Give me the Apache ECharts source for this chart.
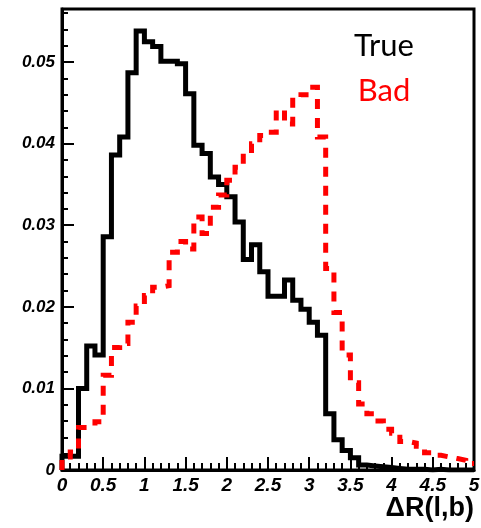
<!DOCTYPE html>
<html>
<head>
<meta charset="utf-8">
<script src="https://cdn.jsdelivr.net/npm/echarts@6/dist/echarts.min.js"></script>
<style>
  html, body { margin: 0; padding: 0; background: #ffffff; }
  #chart { width: 481px; height: 528px; }
</style>
</head>
<body>
<div id="chart"></div>
<script>
// Histogram of ΔR(l,b): 50 bins of width 0.1 between 0 and 5
const binWidth = 0.1;
const binCount = 50;

// "True" pairing (black, solid)
const trueValues = [
  0.0017, 0.0017, 0.0100, 0.0152, 0.0141, 0.0286, 0.0386, 0.0408, 0.0487, 0.0538,
  0.0525, 0.0519, 0.0501, 0.0501, 0.0498, 0.0461, 0.0398, 0.0388, 0.0359, 0.0350,
  0.0335, 0.0304, 0.0258, 0.0276, 0.0243, 0.0213, 0.0213, 0.0233, 0.0208, 0.0197,
  0.0181, 0.0165, 0.0069, 0.0037, 0.0024, 0.0015, 0.0006, 0.0005, 0.0004, 0.0003,
  0.0002, 0.0001, 0.0001, 0.0001, 0.0000, 0.0001, 0.0000, 0.0000, 0.0000, 0.0000
];

// "Bad" pairing (red, dashed)
const badValues = [
  0.0016, 0.0022, 0.0052, 0.0054, 0.0059, 0.0116, 0.0150, 0.0155, 0.0181, 0.0201,
  0.0214, 0.0224, 0.0226, 0.0267, 0.0280, 0.0271, 0.0310, 0.0290, 0.0322, 0.0337,
  0.0355, 0.0371, 0.0388, 0.0400, 0.0410, 0.0414, 0.0441, 0.0424, 0.0457, 0.0460,
  0.0469, 0.0408, 0.0247, 0.0193, 0.0141, 0.0107, 0.0081, 0.0069, 0.0060, 0.0050,
  0.0045, 0.0035, 0.0033, 0.0029, 0.0021, 0.0018, 0.0016, 0.0014, 0.0012, 0.0008
];

// Axis ticks and labels
const xMin = 0, xMax = 5, xTickStep = 0.5;
const yMin = 0, yMax = 0.0565;
const yMajorTicks = [0, 0.01, 0.02, 0.03, 0.04, 0.05];
const yMinorTicks = [
  0.002, 0.004, 0.006, 0.008, 0.012, 0.014, 0.016, 0.018,
  0.022, 0.024, 0.026, 0.028, 0.032, 0.034, 0.036, 0.038,
  0.042, 0.044, 0.046, 0.048, 0.052, 0.054, 0.056
];
const yLabels = ['0', '0.01', '0.02', '0.03', '0.04', '0.05'];
const xTitle = 'ΔR(l,b)';
const legendTrue = 'True';
const legendBad = 'Bad';

// Outline of a histogram: rise from zero at the first edge, then one point per bin
function histogramOutline(values) {
  const pts = [[0, 0]];
  for (let i = 0; i < values.length; i++) {
    pts.push([Math.round(i * binWidth * 10) / 10, values[i]]);
  }
  pts.push([binCount * binWidth, values[values.length - 1]]);
  return pts;
}

const labelFont = {
  fontFamily: 'Liberation Sans',
  fontWeight: 'bold',
  fontStyle: 'italic',
  color: '#000'
};

const chart = echarts.init(document.getElementById('chart'), null, { renderer: 'canvas' });

chart.setOption({
  animation: false,
  backgroundColor: '#ffffff',
  grid: {
    left: 62, right: 7, top: 9, bottom: 58,
    show: true,
    borderColor: '#000',
    borderWidth: 3,
    outerBoundsMode: 'none'
  },
  xAxis: {
    type: 'value',
    min: xMin, max: xMax, interval: xTickStep,
    axisLine: { show: true, onZero: false, lineStyle: { color: '#000', width: 3 } },
    axisTick: { show: true, inside: true, length: 13, lineStyle: { color: '#000', width: 2 } },
    minorTick: { show: true, splitNumber: 5, length: 7, lineStyle: { color: '#000', width: 2 } },
    splitLine: { show: false },
    minorSplitLine: { show: false },
    axisLabel: Object.assign({
      fontSize: 19,
      margin: 6,
      formatter: v => String(Math.round(v * 10) / 10)
    }, labelFont)
  },
  yAxis: [
    {
      type: 'value',
      min: yMin, max: yMax,
      position: 'left',
      axisLine: { show: true, onZero: false, lineStyle: { color: '#000', width: 3 } },
      axisTick: {
        show: true, inside: true, length: 12,
        customValues: yMajorTicks,
        lineStyle: { color: '#000', width: 2 }
      },
      splitLine: { show: false },
      axisLabel: Object.assign({
        fontSize: 17,
        margin: 7,
        customValues: yMajorTicks,
        formatter: v => {
          const idx = yMajorTicks.findIndex(t => Math.abs(t - v) < 1e-9);
          return idx >= 0 ? yLabels[idx] : '';
        }
      }, labelFont)
    },
    {
      type: 'value',
      min: yMin, max: yMax,
      position: 'left',
      axisLine: { show: false },
      axisTick: {
        show: true, inside: true, length: 6,
        customValues: yMinorTicks,
        lineStyle: { color: '#000', width: 2 }
      },
      axisLabel: { show: false },
      splitLine: { show: false }
    }
  ],
  series: [
    {
      name: legendTrue,
      type: 'line',
      step: 'end',
      yAxisIndex: 0,
      showSymbol: false,
      symbol: 'none',
      data: histogramOutline(trueValues),
      lineStyle: { color: '#000000', width: 5, cap: 'butt', join: 'miter' },
      z: 3
    },
    {
      name: legendBad,
      type: 'line',
      step: 'end',
      yAxisIndex: 0,
      showSymbol: false,
      symbol: 'none',
      data: histogramOutline(badValues),
      lineStyle: { color: '#ff0000', width: 5, type: [10, 9], cap: 'butt', join: 'miter' },
      z: 4
    }
  ],
  graphic: [
    {
      type: 'text',
      style: {
        text: legendTrue, x: 384, y: 46,
        align: 'center', verticalAlign: 'middle',
        textAlign: 'center', textVerticalAlign: 'middle',
        font: '31px Lato', fill: '#000000'
      },
      z: 10
    },
    {
      type: 'text',
      style: {
        text: legendBad, x: 384, y: 91,
        align: 'center', verticalAlign: 'middle',
        textAlign: 'center', textVerticalAlign: 'middle',
        font: '31px Lato', fill: '#ff0000'
      },
      z: 10
    },
    {
      type: 'text',
      style: {
        text: xTitle, x: 474, y: 509,
        align: 'right', verticalAlign: 'middle',
        textAlign: 'right', textVerticalAlign: 'middle',
        font: 'bold 27px "Liberation Sans"', fill: '#000000'
      },
      z: 10
    }
  ]
});
</script>
</body>
</html>
